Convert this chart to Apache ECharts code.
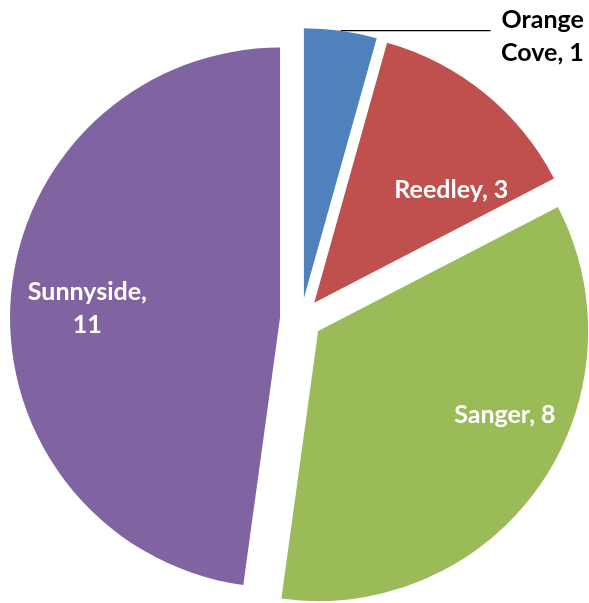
<!DOCTYPE html>
<html>
<head>
<meta charset="utf-8">
<script src="https://cdn.jsdelivr.net/npm/echarts@6/dist/echarts.min.js"></script>
<style>
  html, body { margin: 0; padding: 0; background: #fff; }
  #chart { width: 589px; height: 603px; }
</style>
</head>
<body>
<div id="chart"></div>
<script>
// pie data, clockwise from 12 o'clock
var towns = ['Orange Cove', 'Reedley', 'Sanger', 'Sunnyside'];
var counts = [1, 3, 8, 11];
var colors = ['#4F81BD', '#C0504D', '#9BBB59', '#8064A2'];

// label nudges away from the default spot
var labelShift = [[-2, 6], [50, -6], [74, 4], [-55, 0]];

var pieData = [];
for (var i = 0; i < towns.length; i++) {
    var item = {
        name: towns[i],
        value: counts[i],
        selected: true,
        itemStyle: { color: colors[i] }
    };
    if (i === 0) {
        // small slice: label outside with a leader line
        item.label = {
            position: 'outside',
            alignTo: 'edge',
            edgeDistance: 6,
            color: '#000',
            formatter: 'Orange\nCove, {c}',
            align: 'right'
        };
        item.labelLine = {
            show: true,
            length: 0,
            length2: 150,
            lineStyle: { color: '#000', width: 1.3 }
        };
    } else {
        item.label = {
            position: 'inside',
            color: '#fff',
            formatter: i === 3 ? 'Sunnyside,\n{c}' : '{b}, {c}'
        };
        item.labelLine = { show: false };
    }
    pieData.push(item);
}

var myChart = echarts.init(document.getElementById('chart'));
var option = {
    animation: false,
    series: [{
        type: 'pie',
        center: [301, 319],
        radius: [0, 270],
        startAngle: 90,
        clockwise: true,
        selectedMode: 'multiple',
        selectedOffset: 21,
        avoidLabelOverlap: false,
        emphasis: { disabled: true },
        label: {
            show: true,
            fontFamily: 'Lato',
            fontWeight: 'bold',
            fontSize: 25,
            lineHeight: 33
        },
        labelLayout: function (params) {
            var s = labelShift[params.dataIndex];
            return { dx: s[0], dy: s[1] };
        },
        data: pieData
    }]
};
myChart.setOption(option);
</script>
</body>
</html>
